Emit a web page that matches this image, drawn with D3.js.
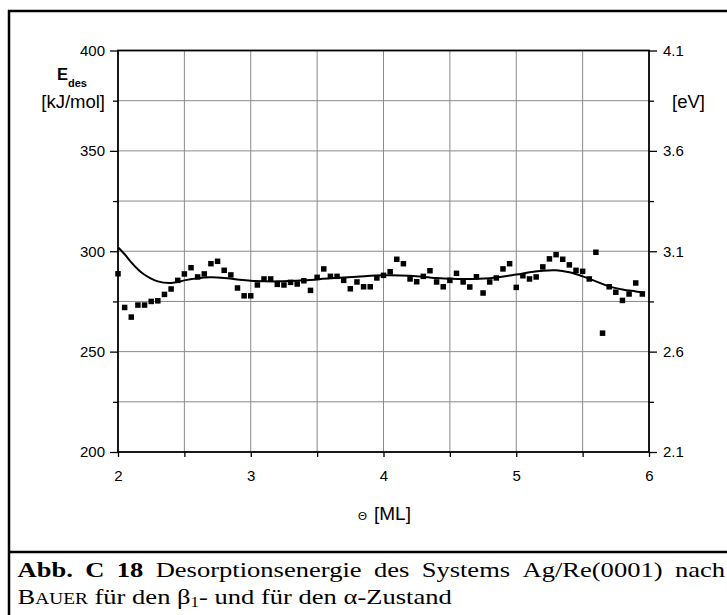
<!DOCTYPE html>
<html><head><meta charset="utf-8">
<script src="https://cdn.jsdelivr.net/npm/d3@7"></script>
<style>
html,body{margin:0;padding:0;background:#fff;overflow:hidden;}
svg{display:block;}
text{font-family:"Liberation Sans",Arial,sans-serif;fill:#000;}
.cap{font-family:"Liberation Serif","Times New Roman",serif;}
</style></head>
<body>
<svg id="c" width="727" height="615"></svg>
<script>
// ---- data ----
const theta = [2.00,2.05,2.10,2.15,2.20,2.25,2.30,2.35,2.40,2.45,2.50,2.55,2.60,2.65,2.70,2.75,2.80,2.85,2.90,2.95,
  3.00,3.05,3.10,3.15,3.20,3.25,3.30,3.35,3.40,3.45,3.50,3.55,3.60,3.65,3.70,3.75,3.80,3.85,3.90,3.95,
  4.00,4.05,4.10,4.15,4.20,4.25,4.30,4.35,4.40,4.45,4.50,4.55,4.60,4.65,4.70,4.75,4.80,4.85,4.90,4.95,
  5.00,5.05,5.10,5.15,5.20,5.25,5.30,5.35,5.40,5.45,5.50,5.55,5.60,5.65,5.70,5.75,5.80,5.85,5.90,5.95];
const edes = [288.8,272,267.2,273.2,273.2,275,275.3,278.5,281.2,285.5,288.7,291.8,287.2,288.7,293.8,295,290.5,288.2,281.7,277.8,
  277.8,283.2,286.2,286.2,283.5,283.2,284.5,283.7,285.3,280.5,287,291.2,287.5,287.5,285.5,281.3,284.7,282.3,282.3,286.7,
  288,289.8,296,293.8,286.2,284.8,287.5,290.3,284.7,282.3,285.5,289,284.7,282.2,287.3,279.2,284.7,286.7,291.2,293.8,
  282,287.8,286.2,287.2,292.2,296.2,298.3,296,293.2,290.5,290,286.2,299.5,259.2,282.3,279.6,275.5,278.7,284.2,278.7];
const fitTheta = [2.0,2.05,2.1,2.15,2.2,2.3,2.4,2.5,2.6,2.7,2.8,2.9,3.0,3.2,3.4,3.6,3.8,4.0,4.2,4.4,4.6,4.8,5.0,5.1,5.2,5.3,5.4,5.5,5.6,5.7,5.8,5.9,5.97];
const fitEdes  = [302,298.5,294.5,291,288.3,285,284.2,285.5,286.6,287,286.7,285.9,285.3,285,285.5,286.5,287.3,288,287.8,286.7,286.2,286.6,288.4,289.5,290.3,290.5,289.5,287.5,285,282.5,281,280,279.3];
const xTickLabels = [2,3,4,5,6];
const yTickLabels = [200,250,300,350,400];
const eVTickLabels = ["2.1","2.6","3.1","3.6","4.1"];
const captionLine1 = [["Abb.",true],["C",true],["18",true],["Desorptionsenergie",false],["des",false],["Systems",false],["Ag/Re(0001)",false],["nach",false]];

// ---- layout ----
const svg = d3.select("#c");
const L = 118, R = 649, T = 50.5, B = 452;
const x = d3.scaleLinear().domain([2,6]).range([L,R]);
const y = d3.scaleLinear().domain([200,400]).range([B,T]);
const yR = d3.scaleLinear().domain([2.1,4.1]).range([B,T]);

// frame
svg.append("path").attr("d",`M9,620 V11 H740`).attr("fill","none").attr("stroke","#000").attr("stroke-width",2.5);
svg.append("line").attr("x1",9).attr("x2",740).attr("y1",552).attr("y2",552).attr("stroke","#000").attr("stroke-width",2.5);

// grid
const gx = [2.5,3,3.5,4,4.5,5,5.5];
const gy = [225,250,275,300,325,350,375];
svg.append("g").selectAll("line").data(gx).join("line")
  .attr("x1",d=>x(d)).attr("x2",d=>x(d)).attr("y1",T).attr("y2",B)
  .attr("stroke","#8a8a8a").attr("stroke-width",1);
svg.append("g").selectAll("line").data(gy).join("line")
  .attr("x1",L).attr("x2",R).attr("y1",d=>y(d)).attr("y2",d=>y(d))
  .attr("stroke","#8a8a8a").attr("stroke-width",1);

// axes
const axStyle = g=>{g.select(".domain").remove();g.selectAll("line").attr("stroke","#000").attr("stroke-width",1.3);
  g.selectAll("text").attr("font-size",15).attr("font-family","Liberation Sans, Arial, sans-serif");};
svg.append("g").attr("transform",`translate(${L},0)`)
  .call(d3.axisLeft(y).tickValues(yTickLabels).tickSize(8).tickPadding(5)).call(axStyle);
svg.append("g").attr("transform",`translate(${L},0)`)
  .call(d3.axisLeft(y).tickValues([225,275,325,375]).tickSize(5).tickFormat("")).call(axStyle);
svg.append("g").attr("transform",`translate(${R},0)`)
  .call(d3.axisRight(yR).tickValues(eVTickLabels.map(Number)).tickSize(8).tickPadding(6).tickFormat(d3.format(".1f"))).call(axStyle);
svg.append("g").attr("transform",`translate(${R},0)`)
  .call(d3.axisRight(yR).tickValues([2.35,2.85,3.35,3.85]).tickSize(5).tickFormat("")).call(axStyle);
svg.append("g").attr("transform",`translate(0,${B})`)
  .call(d3.axisBottom(x).tickValues(xTickLabels).tickSize(5).tickPadding(13).tickFormat(d3.format("d"))).call(axStyle);
svg.append("g").attr("transform",`translate(0,${B})`)
  .call(d3.axisBottom(x).tickValues([2.5,3.5,4.5,5.5]).tickSize(5).tickFormat("")).call(axStyle);

// axis frame lines
svg.append("rect").attr("x",L).attr("y",T).attr("width",R-L).attr("height",B-T)
  .attr("fill","none").attr("stroke","#000").attr("stroke-width",1.8);

// points
const s = 5.5;
svg.append("g").selectAll("rect").data(theta.map((t,i)=>[t,edes[i]])).join("rect")
  .attr("x",d=>x(d[0])-s/2).attr("y",d=>y(d[1])-s/2).attr("width",s).attr("height",s).attr("fill","#000");

// fit line
svg.append("path").datum(fitTheta.map((t,i)=>[t,fitEdes[i]]))
  .attr("d",d3.line().x(d=>x(d[0])).y(d=>y(d[1])).curve(d3.curveCatmullRom.alpha(0.5)))
  .attr("fill","none").attr("stroke","#000").attr("stroke-width",2);

// axis titles
const yl = svg.append("text").attr("x",57).attr("y",80).attr("font-size",16.5).attr("font-weight","bold");
yl.append("tspan").text("E");
yl.append("tspan").attr("font-size",11).attr("dy",7).text("des");
svg.append("text").attr("x",105).attr("y",108).attr("text-anchor","end").attr("font-size",18.5).text("[kJ/mol]");
svg.append("text").attr("x",672).attr("y",108).attr("font-size",18.5).text("[eV]");
svg.append("text").attr("x",358).attr("y",520).attr("font-size",11.5).text("Θ");
svg.append("text").attr("x",374).attr("y",520).attr("font-size",19).text("[ML]");

// caption
const capX = 17.6, line2End = 452, line1End = 725;
const cap = svg.append("g").attr("class","cap");
const c2 = cap.append("text").attr("class","cap").attr("x",0).attr("y",604).attr("font-size",22);
c2.append("tspan").text("B");
c2.append("tspan").attr("font-size",16).text("AUER");
c2.append("tspan").text(" für den β");
c2.append("tspan").attr("font-size",14).attr("dy",3).text("1");
c2.append("tspan").attr("dy",-3).text("- und für den α-Zustand");
const w2 = c2.node().getComputedTextLength();
const sx = (line2End-capX)/w2;
cap.attr("transform",`translate(${capX},0) scale(${sx},1)`);
const c1 = cap.append("text").attr("class","cap").attr("y",577).attr("font-size",22);
const words = captionLine1.map(([w,b])=>c1.append("tspan").attr("font-weight",b?"bold":null).text(w));
const widths = words.map(t=>t.node().getComputedTextLength());
const span = (line1End-capX)/sx;
const gap = (span-d3.sum(widths))/(words.length-1);
let cx = 0;
words.forEach((t,i)=>{t.attr("x",cx); cx += widths[i]+gap;});
</script>
</body></html>
